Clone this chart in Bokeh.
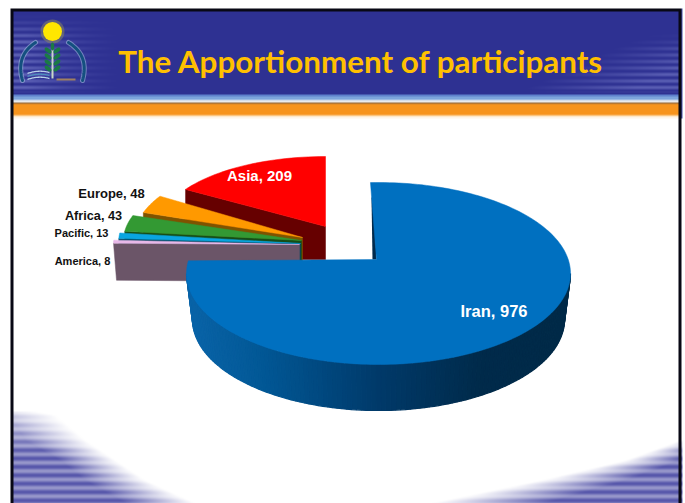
import numpy as np
from bokeh.plotting import figure
from bokeh.embed import file_html
from bokeh.resources import INLINE
from bokeh.core.properties import value

# data, clockwise from twelve o'clock
categories = ["Iran", "America", "Pacific", "Africa", "Europe", "Asia"]
participants = [976, 8, 13, 43, 48, 209]
title_text = "The Apportionment of participants"

W, H = 685, 503
p = figure(width=W, height=H, x_range=(0, W), y_range=(H, 0), output_backend="svg",
           toolbar_location=None, min_border=0, outline_line_color=None,
           background_fill_color="white", border_fill_color="white")
p.axis.visible = False
p.grid.visible = False

# ---------- slide background, painted pixel by pixel
yy, xx = np.mgrid[0:H, 0:W] + 0.5
rgb = np.ones((H, W, 3)) * 255.0

def paint(mask, col, alpha=1.0):
    a = (mask * alpha)[..., None]
    rgb[:] = rgb * (1 - a) + np.array(col, float) * a

def band(y0, y1):
    return ((yy >= y0) & (yy < y1)).astype(float)

# header
paint(band(8, 94), (46, 49, 146))
s_head = 0.5 + 0.5 * np.cos(2 * np.pi * (yy - 22) / 6.5)
la = np.clip((125 - xx) / 100, 0, 1) ** 1.5 * np.clip((yy - 14) / 25, 0, 1) * (yy < 92)
paint(np.ones_like(xx), (110, 115, 195), la * s_head * 0.75)
ra = np.clip((xx - (640 - (yy - 35) * 2.2)) / 110, 0, 1) * np.clip((yy - 30) / 18, 0, 1) * (yy < 92)
paint(np.ones_like(xx), (110, 115, 195), ra * s_head * 0.7)
for y0, y1, c in [(94, 96, (95, 130, 205)), (96, 99, (125, 165, 220)), (99, 100, (190, 210, 235)),
                  (100, 102, (235, 235, 235)), (102, 103, (150, 105, 60)), (103, 104, (215, 135, 40)),
                  (104, 114, (247, 148, 29)), (114, 115, (250, 175, 85)), (115, 116, (253, 220, 170)),
                  (116, 118, (255, 245, 232))]:
    paint(band(y0, y1), c)

# lower corners
stripes = 0.8 + 0.2 * np.cos(2 * np.pi * (yy - 416) / 8.4)
ys = [410, 415, 440, 460, 480, 503]
lo = np.interp(yy, ys, [0, 10, 25, 60, 85, 125])
hi = np.interp(yy, ys, [30, 55, 85, 115, 145, 195])
left_a = np.clip((hi - xx) / (hi - lo), 0, 1) * (yy > 411) * np.clip((yy - 411) / 55 + 0.25, 0, 1)
paint(np.ones_like(xx), (85, 85, 170), left_a * stripes)
ys = [435, 440, 460, 480, 503]
lo = np.interp(yy, ys, [690, 680, 625, 540, 430])
hi = np.interp(yy, ys, [730, 720, 680, 625, 545])
right_a = np.clip((xx - lo) / (hi - lo), 0, 1) * (yy > 436)
paint(np.ones_like(xx), (85, 85, 170), right_a * stripes)

# frame
white_out = ((xx < 10) | (yy < 8)).astype(float)
paint(white_out, (255, 255, 255))
paint(((xx >= 10) & (xx < 13) & (yy >= 8)).astype(float), (8, 8, 20))
paint(((xx >= 678) & (xx < 681) & (yy >= 8)).astype(float), (8, 8, 20))
paint(((xx >= 10) & (xx < 681) & (yy >= 8) & (yy < 11)).astype(float), (8, 8, 20))
paint(((xx >= 681) & (yy >= 8) & (yy < 118)).astype(float), (70, 80, 170))
paint(((xx >= 682)).astype(float), (255, 255, 255))

img = np.zeros((H, W, 4), dtype=np.uint8)
img[..., :3] = np.clip(rgb, 0, 255).astype(np.uint8)
img[..., 3] = 255
img32 = img.view(np.uint32).reshape(H, W).copy()
p.image_rgba(image=[img32], x=0, y=0, dw=W, dh=H)

# ---------- logo
def curve(p0, p1, p2, n=30):
    t = np.linspace(0, 1, n)
    return ((1 - t) ** 2 * p0[0] + 2 * t * (1 - t) * p1[0] + t ** 2 * p2[0],
            (1 - t) ** 2 * p0[1] + 2 * t * (1 - t) * p1[1] + t ** 2 * p2[1])

for a0, a1, a2 in [((35, 42), (15, 55), (22, 80)), ((68, 42), (89, 55), (82, 80))]:
    cx_, cy_ = curve(a0, a1, a2)
    p.line(cx_, cy_, line_color="#a8c4e0", line_width=5, line_alpha=0.55, line_cap="round")
    p.line(cx_, cy_, line_color="#14507f", line_width=3, line_cap="round")
p.scatter([52], [31], size=24, fill_color="#8d8a60", fill_alpha=0.5, line_color=None)
p.scatter([52], [31], size=19, fill_color="#ffe600", line_color=None)
p.line([52, 52], [45, 78], line_color="#c8d8c8", line_width=2)
for yl in [50, 56, 62, 68]:
    p.ellipse([47.5, 56.5], [yl, yl], width=8, height=4, angle=[-0.7, 0.7], fill_color="#1a7a45", line_color=None)
p.ellipse([52], [46], width=3.5, height=8, fill_color="#1a7a45", line_color=None)
for dy, col in [(0, "#b8d0e8"), (3, "#4f8fc0"), (6, "#b8d0e8")]:
    wx, wy = curve((27, 73 + dy), (38, 69 + dy), (49, 72 + dy))
    p.line(wx, wy, line_color=col, line_width=1.3)
p.quad(left=[56], right=[75], top=[78], bottom=[80], fill_color="#a08060", line_color=None)

# ---------- title
p.text([360.5], [60], text=[title_text], text_font=value("Lato"), text_font_style="bold",
       text_font_size=value("31.4px"), text_color="#ffc000", text_align="center", text_baseline="middle")

# ---------- pie
vals = np.array(participants, float)
edges = np.concatenate([[0], np.cumsum(vals)]) / vals.sum() * 360.0

# apex x, apex y, x radius, y radius, depth, top colour, side colour
exploded = {
    "Asia":    (325, 226, 165, 70, 33, "#ff0000", "#660000"),
    "Europe":  (302, 237, 168, 78, 24, "#ff9900", "#7f5300"),
    "Africa":  (301, 240, 178, 78, 20, "#339933", "#174d17"),
    "Pacific": (300, 243, 182, 90, 16, "#0aa5e0", "#00465f"),
    "America": (299, 244, 186, 80, 37, "#e8b8e8", "#6b5568"),
}

def rim(cx, cy, a, b, deg):
    r = np.radians(deg)
    return cx + a * np.sin(r), cy - b * np.cos(r)

for name in ["Asia", "Europe", "Africa", "Pacific", "America"]:
    i = categories.index(name)
    ax, ay, a, b, d, top, side = exploded[name]
    th = np.linspace(edges[i], edges[i + 1], 30)
    rx, ry = rim(ax, ay, a, b, th)
    inset = 3 if name == "America" else 0
    # the cut face; Asia's runs straight down behind the other slices
    fx = [rx[0], ax, ax, ax - 25, rx[0] + inset] if name == "Asia" else [rx[0], ax, ax, rx[0] + inset]
    fy = [ry[0], ay, ay + d, ay + d, ry[0] + d] if name == "Asia" else [ry[0], ay, ay + d, ry[0] + d]
    p.patch(fx, fy, fill_color=side, line_color=side, line_width=0.5)
    p.patch(np.r_[ax, rx], np.r_[ay, ry], fill_color=top, line_color=top, line_width=0.5)

# Iran: the big slice. Its rim is stretched a little by the perspective of the view.
CX, CY, RA, RB = 378, 273, 192, 91
BY, BA = 319, 186
APEX = (376, 259)
STRETCH = 1.035
T0 = 2.4

def iran_rim(deg):
    r = np.radians(deg)
    return CX + RA * np.sin(r), CY - RB * np.cos(r)

stops_x = [186, 260, 378, 480, 570]
stops = np.array([[10, 100, 168], [2, 88, 150], [0, 58, 106], [0, 43, 75], [0, 42, 72]], float)
th = np.linspace(90, 270, 120)
xs_, ys_, cols = [], [], []
for t0, t1 in zip(th[:-1], th[1:]):
    x0, y0 = iran_rim(t0); x1, y1 = iran_rim(t1)
    bx0 = CX + BA * np.sin(np.radians(t0)); by0 = BY - RB * np.cos(np.radians(t0))
    bx1 = CX + BA * np.sin(np.radians(t1)); by1 = BY - RB * np.cos(np.radians(t1))
    xs_.append([x0, x1, bx1, bx0]); ys_.append([y0, y1, by1, by0])
    m = (x0 + x1) / 2
    c = [int(np.interp(m, stops_x, stops[:, k])) for k in range(3)]
    cols.append("#%02x%02x%02x" % tuple(c))
p.patches(xs_, ys_, fill_color=cols, line_color=cols, line_width=1.2)

t_iran = np.linspace(edges[0] - T0, (edges[1] - edges[0]) * STRETCH - T0, 200)
ix, iy = iran_rim(t_iran)
p.patch([371, 373, 376, 372], [197, 197, 259, 259], fill_color="#002a4c", line_color=None)
p.patch(np.r_[APEX[0], ix], np.r_[APEX[1], iy], fill_color="#0070c0", line_color="#0070c0", line_width=0.5)

# ---------- labels
labels = [f"{c}, {v}" for c, v in zip(categories, participants)]
lab_pos = {"Iran": (493.5, 310, "16.5px", "white"), "America": (82, 260, "11px", "#111111"),
           "Pacific": (81, 232, "11px", "#111111"), "Africa": (93, 215, "12.7px", "#111111"),
           "Europe": (111, 193, "13px", "#111111"), "Asia": (259, 175, "15px", "white")}
for c, t in zip(categories, labels):
    x_, y_, sz, col = lab_pos[c]
    p.text([x_], [y_], text=[t], text_font=value("Liberation Sans"), text_font_style="bold",
           text_font_size=value(sz), text_color=col, text_align="center", text_baseline="middle")

open("out.html", "w").write(file_html(p, INLINE))
